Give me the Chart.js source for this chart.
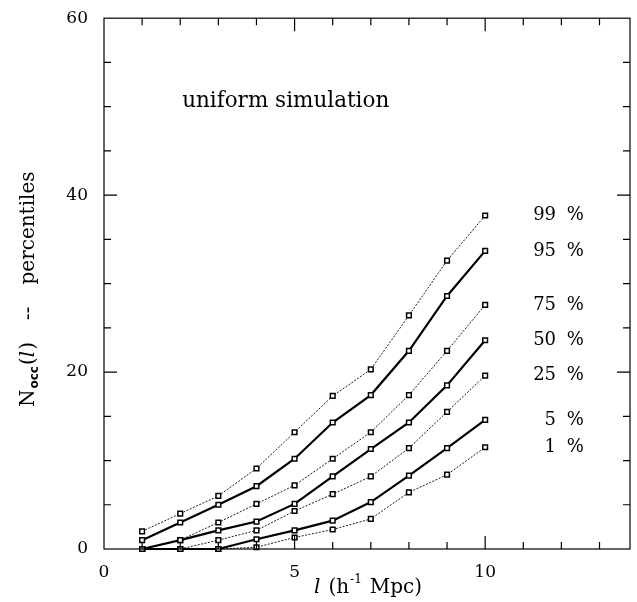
<!DOCTYPE html>
<html>
<head>
<meta charset="utf-8">
<script src="https://cdn.jsdelivr.net/npm/chart.js@4.4.1/dist/chart.umd.min.js"></script>
<style>
  html, body { margin: 0; padding: 0; background: #fff; }
  #wrap { width: 637px; height: 602px; position: relative; }
</style>
</head>
<body>
<div id="wrap"><canvas id="occChart" width="637" height="602"></canvas></div>
<script>
// cell size l (h^-1 Mpc)
const cellSizes = [1, 2, 3, 4, 5, 6, 7, 8, 9, 10];

// percentiles of N_occ(l)
const p99 = [2.0, 4.0, 6.0, 9.1, 13.2, 17.3, 20.3, 26.4, 32.6, 37.7];
const p95 = [1.0, 3.0, 5.0, 7.1, 10.2, 14.3, 17.4, 22.4, 28.6, 33.7];
const p75 = [0.0, 1.0, 3.0, 5.1, 7.2, 10.2, 13.2, 17.4, 22.4, 27.6];
const p50 = [0.0, 1.0, 2.1, 3.1, 5.1, 8.2, 11.3, 14.3, 18.5, 23.6];
const p25 = [0.0, 0.0, 1.0, 2.1, 4.3, 6.2, 8.2, 11.4, 15.5, 19.6];
const p5  = [0.0, 0.0, 0.0, 1.1, 2.1, 3.2, 5.3, 8.3, 11.4, 14.6];
const p1  = [0.0, 0.0, 0.0, 0.2, 1.3, 2.2, 3.4, 6.4, 8.4, 11.5];

const percentLabels = ['99', '95', '75', '50', '25', '5', '1'];
const xTickLabels = [0, 5, 10];
const yTickLabels = [0, 20, 40, 60];

const SERIF = '"DejaVu Serif", "Liberation Serif", serif';

function makeSet(label, values, thick) {
  return {
    label: label,
    data: cellSizes.map((x, i) => ({ x: x, y: values[i] })),
    borderColor: '#000',
    borderWidth: thick ? 2.2 : 0.9,
    borderDash: thick ? [] : [2, 1.5],
    pointStyle: 'rect',
    pointRadius: 3.3,
    pointBorderWidth: 1.5,
    pointBackgroundColor: '#fff',
    pointBorderColor: '#000',
    tension: 0,
    clip: false
  };
}

// frame with inward ticks on all four sides
const frameTicks = {
  id: 'frameTicks',
  afterDraw(chart) {
    const { ctx, chartArea: a, scales: { x, y } } = chart;
    ctx.save();
    ctx.strokeStyle = '#000';
    ctx.lineWidth = 1.2;
    ctx.strokeRect(a.left, a.top, a.right - a.left, a.bottom - a.top);
    ctx.beginPath();
    for (let v = 1; v <= 13; v++) {
      const px = x.getPixelForValue(v);
      const len = v % 5 === 0 ? 13 : 7;
      ctx.moveTo(px, a.bottom); ctx.lineTo(px, a.bottom - len);
      ctx.moveTo(px, a.top); ctx.lineTo(px, a.top + len);
    }
    for (let v = 5; v < 60; v += 5) {
      const py = y.getPixelForValue(v);
      const len = v % 20 === 0 ? 13 : 7;
      ctx.moveTo(a.left, py); ctx.lineTo(a.left + len, py);
      ctx.moveTo(a.right, py); ctx.lineTo(a.right - len, py);
    }
    ctx.stroke();
    ctx.restore();
  }
};

// annotation text, percentile labels and axis titles
const texts = {
  id: 'texts',
  afterDraw(chart) {
    const { ctx, scales: { x, y } } = chart;
    ctx.save();
    ctx.fillStyle = '#000';
    ctx.textBaseline = 'middle';

    ctx.font = '21.5px ' + SERIF;
    ctx.textAlign = 'left';
    ctx.fillText('uniform simulation', x.getPixelForValue(2.05), y.getPixelForValue(50.6));

    // percentile labels sit at the height of each curve's last point
    ctx.font = '18px ' + SERIF;
    chart.data.datasets.forEach((ds, i) => {
      const last = ds.data[ds.data.length - 1].y;
      const py = y.getPixelForValue(last);
      ctx.textAlign = 'right';
      ctx.fillText(percentLabels[i], x.getPixelForValue(11.86), py);
      ctx.textAlign = 'left';
      ctx.fillText('%', x.getPixelForValue(12.14), py);
    });

    // x title: l (h^-1 Mpc)
    let cx = 314, cy = 588;
    ctx.textAlign = 'left';
    ctx.font = 'italic 20px ' + SERIF;
    ctx.fillText('l', cx, cy);
    cx += ctx.measureText('l').width + 8;
    ctx.font = '20px ' + SERIF;
    ctx.fillText('(h', cx, cy);
    cx += ctx.measureText('(h').width + 1;
    ctx.font = '12px ' + SERIF;
    ctx.fillText('-1', cx, cy - 8);
    cx += ctx.measureText('-1').width + 8;
    ctx.font = '20px ' + SERIF;
    ctx.fillText('Mpc)', cx, cy);

    // y title, rotated: N_occ(l)  --  percentiles
    ctx.translate(29, 407);
    ctx.rotate(-Math.PI / 2);
    let tx = 0;
    ctx.font = '20px ' + SERIF;
    ctx.fillText('N', tx, 0);
    tx += ctx.measureText('N').width + 1;
    ctx.font = 'bold 12px "DejaVu Sans", sans-serif';
    ctx.fillText('occ', tx, 6);
    tx += ctx.measureText('occ').width + 1;
    ctx.font = '20px ' + SERIF;
    ctx.fillText('(', tx, 0);
    tx += ctx.measureText('(').width;
    ctx.font = 'italic 20px ' + SERIF;
    ctx.fillText('l', tx, 0);
    tx += ctx.measureText('l').width + 1;
    ctx.font = '20px ' + SERIF;
    ctx.fillText(')', tx, 0);
    tx += ctx.measureText(')').width + 22;
    ctx.fillText('--', tx, 0);
    tx += ctx.measureText('--').width + 22;
    ctx.fillText('percentiles', tx, 0);
    ctx.restore();
  }
};

new Chart(document.getElementById('occChart'), {
  type: 'line',
  data: {
    datasets: [
      makeSet('99 %', p99, false),
      makeSet('95 %', p95, true),
      makeSet('75 %', p75, false),
      makeSet('50 %', p50, true),
      makeSet('25 %', p25, false),
      makeSet('5 %', p5, true),
      makeSet('1 %', p1, false)
    ]
  },
  options: {
    responsive: false,
    animation: false,
    layout: { padding: { left: 0, right: 7, top: 13, bottom: 0 } },
    plugins: {
      legend: { display: false },
      tooltip: { enabled: false }
    },
    scales: {
      x: {
        type: 'linear',
        min: 0,
        max: 13.8,
        grid: { display: false },
        border: { display: false },
        afterFit: (s) => { s.height = 53; },
        ticks: {
          stepSize: 1,
          autoSkip: false,
          maxRotation: 0,
          padding: 5,
          color: '#000',
          font: { family: SERIF, size: 17 },
          callback: (v) => xTickLabels.includes(v) ? String(v) : ''
        }
      },
      y: {
        min: 0,
        max: 60,
        grid: { display: false },
        border: { display: false },
        afterFit: (s) => { s.width = 104; },
        ticks: {
          stepSize: 5,
          autoSkip: false,
          padding: 8,
          color: '#000',
          font: { family: SERIF, size: 17 },
          callback: (v) => yTickLabels.includes(v) ? String(v) : ''
        }
      }
    }
  },
  plugins: [frameTicks, texts]
});
</script>
</body>
</html>
